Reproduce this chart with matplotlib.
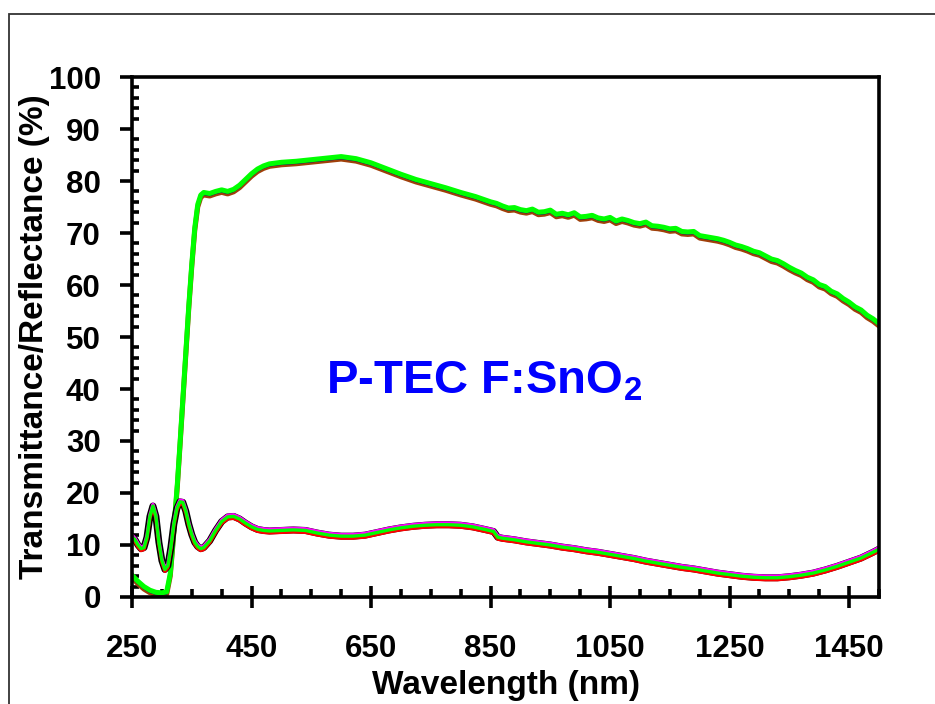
"""Transmittance and reflectance spectra of P-TEC F:SnO2 coated glass."""

import matplotlib

matplotlib.use("Agg")
import matplotlib.pyplot as plt
import matplotlib.transforms as mtransforms
from matplotlib.patches import Rectangle
from matplotlib.ticker import MultipleLocator

plt.rcParams["font.family"] = ["Liberation Sans", "DejaVu Sans"]
plt.rcParams["font.weight"] = "bold"
plt.rcParams["mathtext.fontset"] = "custom"
plt.rcParams["mathtext.rm"] = "Liberation Sans:bold"
plt.rcParams["mathtext.default"] = "rm"

# Total transmittance (%)
wl_t = [250, 260, 270, 280, 290, 300, 308, 314, 318, 322, 326, 330, 335, 340,
        345, 350, 355, 360, 365, 370, 380, 390, 400, 410, 420, 430, 440, 450,
        460, 470, 480, 500, 525, 550, 575, 600, 625, 650, 675, 700, 725, 750,
        775, 800, 825, 850, 860, 870, 880, 890, 900, 910, 920, 930, 940, 950,
        960, 970, 980, 990, 1000, 1010, 1020, 1030, 1040, 1050, 1060, 1070,
        1080, 1090, 1100, 1110, 1120, 1130, 1140, 1150, 1160, 1170, 1180, 1190,
        1200, 1210, 1220, 1230, 1240, 1250, 1260, 1270, 1280, 1290, 1300, 1310,
        1320, 1330, 1340, 1350, 1360, 1370, 1380, 1390, 1400, 1410, 1420, 1430,
        1440, 1450, 1460, 1470, 1480, 1490, 1500]
trans = [4.2, 3.0, 2.0, 1.3, 0.9, 0.8, 1.0, 4.5, 10.0, 16.0, 22.0, 29.0, 38.0,
         47.0, 56.0, 64.0, 71.0, 75.5, 77.3, 77.8, 77.6, 78.0, 78.3, 78.0, 78.4,
         79.2, 80.3, 81.4, 82.3, 82.9, 83.3, 83.6, 83.8, 84.1, 84.4, 84.7, 84.3,
         83.5, 82.4, 81.3, 80.3, 79.5, 78.7, 77.8, 77.0, 76.0, 75.7, 75.2, 74.8,
         74.9, 74.5, 74.3, 74.6, 74.0, 74.1, 74.4, 73.6, 73.8, 73.5, 73.9, 73.1,
         73.2, 73.4, 72.9, 72.7, 73.0, 72.3, 72.7, 72.4, 72.0, 71.8, 72.1, 71.4,
         71.3, 71.1, 70.8, 70.9, 70.3, 70.2, 70.3, 69.5, 69.3, 69.1, 68.9, 68.6,
         68.2, 67.7, 67.4, 67.0, 66.5, 66.2, 65.6, 65.0, 64.7, 64.1, 63.4, 62.8,
         62.3, 61.5, 61.0, 60.1, 59.7, 58.8, 58.3, 57.4, 56.7, 55.8, 55.2, 54.2,
         53.5, 52.6]

# Total reflectance (%)
wl_r = [250, 255, 260, 265, 270, 275, 280, 285, 290, 295, 300, 305, 310, 315,
        320, 325, 330, 335, 340, 345, 350, 355, 360, 365, 370, 380, 390, 400,
        410, 420, 430, 440, 450, 460, 470, 480, 500, 520, 540, 560, 580, 600,
        620, 640, 660, 680, 700, 720, 740, 760, 780, 800, 820, 840, 855, 862,
        870, 890, 910, 930, 950, 970, 990, 1010, 1030, 1050, 1070, 1090, 1110,
        1130, 1150, 1170, 1190, 1210, 1230, 1250, 1270, 1290, 1310, 1330, 1350,
        1370, 1390, 1410, 1430, 1450, 1470, 1490, 1500]
refl = [11.6, 11.0, 10.0, 9.3, 9.5, 11.5, 15.5, 17.5, 15.5, 10.5, 7.0, 5.3,
        6.0, 9.5, 14.0, 17.0, 18.3, 18.2, 16.5, 14.0, 12.0, 10.5, 9.7, 9.3, 9.5,
        10.8, 12.8, 14.5, 15.4, 15.5, 15.0, 14.2, 13.5, 13.0, 12.8, 12.7, 12.8,
        12.9, 12.8, 12.3, 11.9, 11.7, 11.7, 11.9, 12.4, 12.9, 13.3, 13.6, 13.8,
        13.9, 13.9, 13.8, 13.5, 13.0, 12.6, 11.5, 11.3, 11.0, 10.6, 10.3, 10.0,
        9.6, 9.3, 8.9, 8.6, 8.2, 7.8, 7.4, 6.9, 6.5, 6.1, 5.7, 5.4, 5.0, 4.6,
        4.3, 4.0, 3.8, 3.7, 3.7, 3.9, 4.2, 4.6, 5.2, 5.9, 6.7, 7.5, 8.6, 9.2]

x_ticks = [250, 450, 650, 850, 1050, 1250, 1450]
y_ticks = [0, 10, 20, 30, 40, 50, 60, 70, 80, 90, 100]

fig = plt.figure(figsize=(9.35, 7.04), dpi=100)
ax = fig.add_axes([0.1412, 0.152, 0.7989, 0.7386])

# outer frame
fig.patches.append(Rectangle((9 / 935, -0.1), 1.2, 1 - 14 / 704 + 0.1,
                             transform=fig.transFigure, fill=False,
                             edgecolor="#333333", linewidth=1.3))


def shifted(dy):
    return ax.transData + mtransforms.ScaledTranslation(0, dy / 72, fig.dpi_scale_trans)


# repeated scans drawn slightly apart, bright green on top
ax.plot(wl_t, trans, color="#a0400a", lw=3.6, transform=shifted(-1.8))
ax.plot(wl_t, trans, color="#000080", lw=2.0, transform=shifted(-1.0))
ax.plot(wl_t, trans, color="#008000", lw=2.0, transform=shifted(-0.5))
ax.plot(wl_t, trans, color="#00ff00", lw=3.6)

ax.plot(wl_r, refl, color="black", lw=5.0)
ax.plot(wl_r, refl, color="#ff0000", lw=2.4, transform=shifted(-1.4))
ax.plot(wl_r, refl, color="#ff00ff", lw=2.4, transform=shifted(1.2))
ax.plot(wl_r, refl, color="#00ff00", lw=2.4)

ax.set_xlim(250, 1500)
ax.set_ylim(0, 100)
ax.set_xticks(x_ticks)
ax.set_yticks(y_ticks)
ax.xaxis.set_minor_locator(MultipleLocator(50))
ax.yaxis.set_minor_locator(MultipleLocator(2))

for side in ax.spines.values():
    side.set_linewidth(2.6)
ax.tick_params(axis="x", which="major", direction="inout", length=16, width=2.6,
               pad=19, labelsize=22.5)
ax.tick_params(axis="x", which="minor", direction="in", length=6, width=2.6)
ax.tick_params(axis="y", which="major", direction="out", length=8.6, width=2.6,
               pad=14, labelsize=22.5)
ax.tick_params(axis="y", which="minor", direction="in", length=5, width=2.6)

ax.set_xlabel("Wavelength (nm)", fontsize=24, fontweight="bold", labelpad=4)
ax.set_ylabel("Transmittance/Reflectance (%)", fontsize=24, fontweight="bold",
              labelpad=-1)

ax.text(575, 39.2, "P-TEC F:SnO$_2$", color="#0000ff", fontsize=34,
        fontweight="bold", ha="left", va="baseline")

fig.savefig("out.png", dpi=100)
